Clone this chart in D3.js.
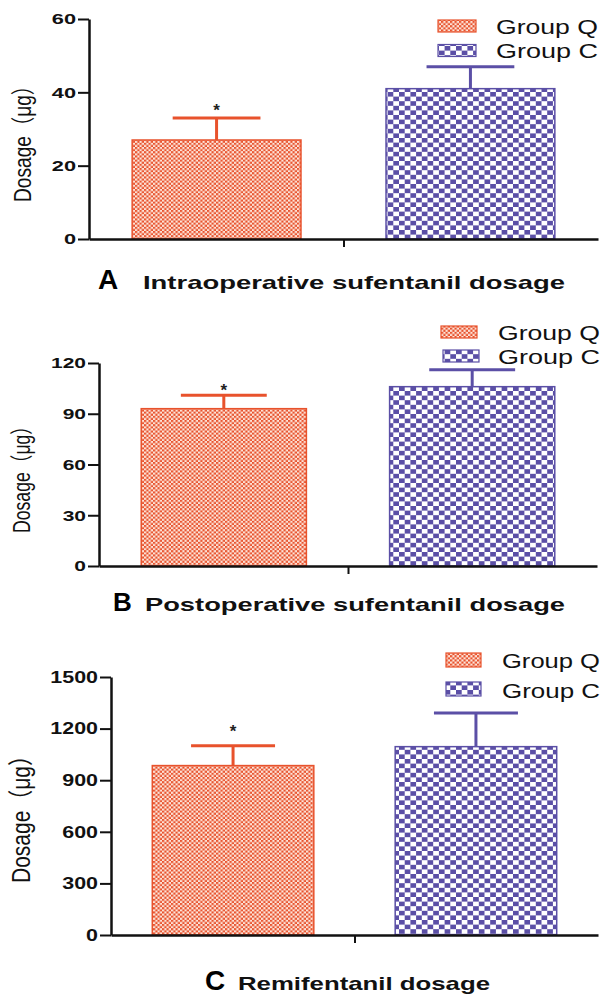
<!DOCTYPE html>
<html><head><meta charset="utf-8">
<script src="https://cdn.jsdelivr.net/npm/d3@7"></script>
<style>body{margin:0;background:#fff}svg{display:block}</style>
</head><body>
<svg id="chart" width="603" height="996"></svg>
<script>
// ---------- data ----------
const categories = ["Group Q", "Group C"];
const intraopMean = [27, 41];
const intraopErr = [6, 6];
const postopMean = [93, 106];
const postopErr = [8, 10];
const remiMean = [985, 1095];
const remiErr = [115, 195];
const intraopTicks = [0, 20, 40, 60];
const postopTicks = [0, 30, 60, 90, 120];
const remiTicks = [0, 300, 600, 900, 1200, 1500];
const panelLetters = ["A", "B", "C"];
const panelTitles = ["Intraoperative sufentanil dosage", "Postoperative sufentanil dosage", "Remifentanil dosage"];
const yLabelText = "Dosage（μg）";
const significance = ["*", ""];

// ---------- styles / layout ----------
const colors = {"Group Q": "#e8522c", "Group C": "#5b4fa6"};
const FONT = "'Liberation Sans', Arial, Helvetica, 'Noto Sans CJK SC', sans-serif";

const layouts = [
  {x0: 89, x1: 598, y0: 239, y1: 19, tickFont: 15, tickSx: 1.45, astOff: 11,
   yl: {cx: 23, cy: 139, len: 126, fs: 22},
   leg: [{x: 438, y: 20, w: 38, h: 12, ty: 26}, {x: 438, y: 44.5, w: 38, h: 12, ty: 50.5}], legTx: 496, legLen: 102,
   title: {lx: 98, lfs: 28, tx: 143, len: 422, base: 289, fs: 19}},
  {x0: 99, x1: 597, y0: 566, y1: 363, tickFont: 15, tickSx: 1.4, astOff: 8,
   yl: {cx: 22, cy: 475, len: 116, fs: 21},
   leg: [{x: 441, y: 326, w: 36, h: 12, ty: 332}, {x: 443, y: 350, w: 36, h: 12, ty: 356}], legTx: 498, legLen: 102,
   title: {lx: 113, lfs: 26, tx: 145, len: 420, base: 611, fs: 19}},
  {x0: 111, x1: 598, y0: 935, y1: 677, tickFont: 16.5, tickSx: 1.3, astOff: 18,
   yl: {cx: 21.5, cy: 814, len: 138, fs: 23},
   leg: [{x: 446, y: 653, w: 35, h: 14, ty: 660.5}, {x: 446, y: 682, w: 35, h: 14, ty: 690}], legTx: 502, legLen: 98,
   title: {lx: 205, lfs: 28, tx: 238, len: 252, base: 990, fs: 19}}
];

const panelData = [
  {mean: intraopMean, err: intraopErr, ticks: intraopTicks},
  {mean: postopMean, err: postopErr, ticks: postopTicks},
  {mean: remiMean, err: remiErr, ticks: remiTicks}
];

const svg = d3.select("#chart");
svg.append("rect").attr("width", 603).attr("height", 996).attr("fill", "#fff");

// ---------- patterns ----------
const defs = svg.append("defs");
const pq = defs.append("pattern").attr("id", "pat-0").attr("patternUnits", "userSpaceOnUse")
  .attr("width", 4.5).attr("height", 4.2);
pq.append("rect").attr("width", 4.5).attr("height", 4.2).attr("fill", "#fde6dc");
pq.append("rect").attr("width", 2.25).attr("height", 2.1).attr("fill", colors["Group Q"]);
pq.append("rect").attr("x", 2.25).attr("y", 2.1).attr("width", 2.25).attr("height", 2.1).attr("fill", colors["Group Q"]);

const pc = defs.append("pattern").attr("id", "pat-1").attr("patternUnits", "userSpaceOnUse")
  .attr("width", 11.4).attr("height", 9.2);
pc.append("rect").attr("width", 11.4).attr("height", 9.2).attr("fill", "#ffffff");
pc.append("rect").attr("width", 5.7).attr("height", 4.6).attr("fill", colors["Group C"]);
pc.append("rect").attr("x", 5.7).attr("y", 4.6).attr("width", 5.7).attr("height", 4.6).attr("fill", colors["Group C"]);

// ---------- panels ----------
panelData.forEach((P, pi) => {
  const L = layouts[pi];
  const g = svg.append("g").attr("class", "panel");
  const yMax = d3.max(P.ticks);
  const y = d3.scaleLinear().domain([0, yMax]).range([L.y0, L.y1]);
  const x = d3.scaleBand().domain(categories).range([L.x0, L.x1]).paddingInner(0.335).paddingOuter(0.17);
  const bw = x.bandwidth();

  // bars
  categories.forEach((c, i) => {
    const m = P.mean[i], e = P.err[i];
    const cx = x(c) + bw / 2;
    g.append("rect").attr("x", x(c)).attr("y", y(m)).attr("width", bw).attr("height", y(0) - y(m))
      .attr("fill", `url(#pat-${i})`).attr("stroke", colors[c]).attr("stroke-width", 1.5);
    // error bar (upper)
    g.append("line").attr("x1", cx).attr("x2", cx).attr("y1", y(m)).attr("y2", y(m + e))
      .attr("stroke", colors[c]).attr("stroke-width", 3);
    g.append("line").attr("x1", cx - bw * 0.26).attr("x2", cx + bw * 0.26).attr("y1", y(m + e)).attr("y2", y(m + e))
      .attr("stroke", colors[c]).attr("stroke-width", 3);
    if (significance[i]) {
      g.append("text").attr("x", cx).attr("y", y(m + e) - L.astOff + 9)
        .attr("text-anchor", "middle").attr("font-family", FONT).attr("font-weight", "bold")
        .attr("font-size", 17).attr("fill", "#222").text(significance[i]);
    }
  });

  // y axis
  const ya = g.append("g").attr("transform", `translate(${L.x0},0)`)
    .call(d3.axisLeft(y).tickValues(P.ticks).tickFormat(d3.format("d")).tickSize(11).tickSizeOuter(0).tickPadding(2));
  ya.select(".domain").attr("stroke", "#111").attr("stroke-width", 2.5);
  ya.selectAll(".tick line").attr("stroke", "#111").attr("stroke-width", 2);
  ya.selectAll(".tick text").attr("font-family", FONT).attr("font-weight", "bold")
    .attr("font-size", L.tickFont).attr("fill", "#111")
    .attr("x", -13 / L.tickSx).attr("transform", `scale(${L.tickSx},1)`);

  // x axis
  const xl = d3.scaleLinear().domain([0, 1]).range([L.x0, L.x1]);
  const xa = g.append("g").attr("transform", `translate(0,${L.y0})`)
    .call(d3.axisBottom(xl).tickValues([0.5]).tickFormat("").tickSize(8).tickSizeOuter(0));
  xa.select(".domain").attr("stroke", "#111").attr("stroke-width", 2.5);
  xa.selectAll(".tick line").attr("stroke", "#111").attr("stroke-width", 2);

  // y label
  g.append("text").attr("transform", `translate(${L.yl.cx},${L.yl.cy}) scale(1.1,1) rotate(-90)`)
    .attr("text-anchor", "middle").attr("dominant-baseline", "central")
    .attr("font-family", FONT).attr("font-size", L.yl.fs).attr("fill", "#111")
    .attr("textLength", L.yl.len).attr("lengthAdjust", "spacingAndGlyphs").text(yLabelText);

  // legend
  categories.forEach((c, i) => {
    const lg = L.leg[i];
    g.append("rect").attr("x", lg.x).attr("y", lg.y).attr("width", lg.w).attr("height", lg.h)
      .attr("fill", `url(#pat-${i})`).attr("stroke", colors[c]).attr("stroke-width", 1.2);
    g.append("text").attr("x", L.legTx).attr("y", lg.ty + 7.5)
      .attr("font-family", FONT).attr("font-size", 21).attr("fill", "#111")
      .attr("textLength", L.legLen).attr("lengthAdjust", "spacingAndGlyphs").text(c);
  });

  // title
  g.append("text").attr("x", L.title.lx).attr("y", L.title.base)
    .attr("font-family", FONT).attr("font-weight", "bold").attr("font-size", L.title.lfs).attr("fill", "#000")
    .text(panelLetters[pi]);
  g.append("text").attr("x", L.title.tx).attr("y", L.title.base)
    .attr("font-family", FONT).attr("font-weight", "bold").attr("font-size", L.title.fs).attr("fill", "#111")
    .attr("textLength", L.title.len).attr("lengthAdjust", "spacingAndGlyphs").text(panelTitles[pi]);
});
</script>
</body></html>
